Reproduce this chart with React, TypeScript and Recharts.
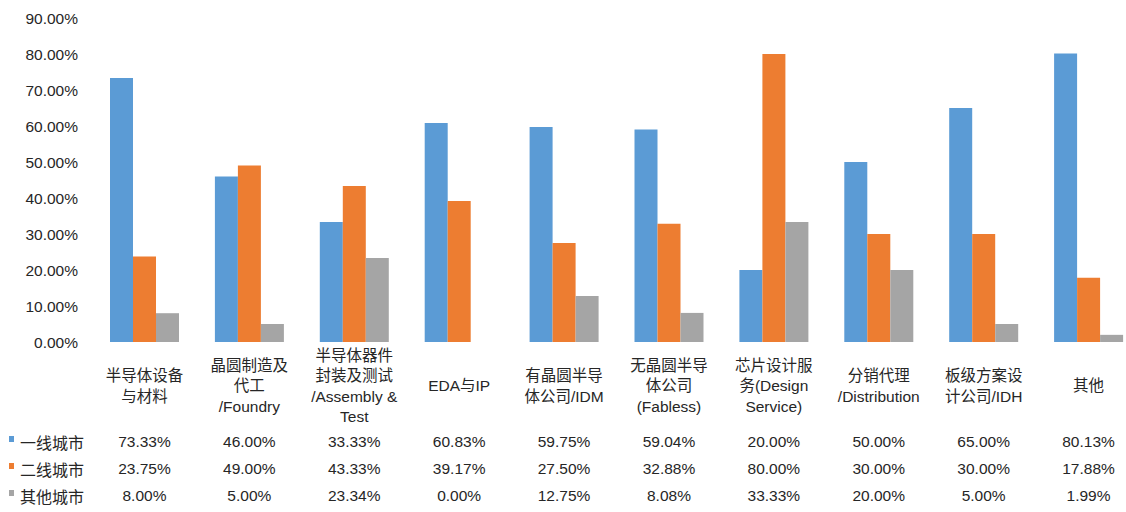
import { BarChart, Bar, XAxis, YAxis, Legend } from 'recharts';

const categoryLines: string[][] = [
  ['半导体设备', '与材料'],
  ['晶圆制造及', '代工', '/Foundry'],
  ['半导体器件', '封装及测试', '/Assembly &', 'Test'],
  ['EDA与IP'],
  ['有晶圆半导', '体公司/IDM'],
  ['无晶圆半导', '体公司', '(Fabless)'],
  ['芯片设计服', '务(Design', 'Service)'],
  ['分销代理', '/Distribution'],
  ['板级方案设', '计公司/IDH'],
  ['其他'],
];
const tier1 = [73.33, 46.0, 33.33, 60.83, 59.75, 59.04, 20.0, 50.0, 65.0, 80.13];
const tier2 = [23.75, 49.0, 43.33, 39.17, 27.5, 32.88, 80.0, 30.0, 30.0, 17.88];
const otherCities = [8.0, 5.0, 23.34, 0.0, 12.75, 8.08, 33.33, 20.0, 5.0, 1.99];
const yTicks = [0, 10, 20, 30, 40, 50, 60, 70, 80, 90];

const seriesMeta = [
  { key: 'tier1', name: '一线城市', color: '#5B9BD5' },
  { key: 'tier2', name: '二线城市', color: '#ED7D31' },
  { key: 'other', name: '其他城市', color: '#A5A5A5' },
];

const data = categoryLines.map((lines, i) => ({
  name: lines.join(''),
  lines,
  tier1: tier1[i],
  tier2: tier2[i],
  other: otherCities[i],
}));

const FONT = '"Liberation Sans", Arial, "Noto Sans CJK SC", sans-serif';
const TEXT = '#262626';
const pct = (v: number) => `${v.toFixed(2)}%`;

function CategoryTick(props: any) {
  const { x, y, index } = props;
  const row = data[index];
  if (!row) return null;
  const lineH = 20.5;
  const top = y + 36 - ((row.lines.length - 1) * lineH) / 2;
  const rowsY = [y + 92, y + 119, y + 146];
  return (
    <g>
      {row.lines.map((l, k) => (
        <text key={k} x={x} y={top + k * lineH} dy="0.35em" textAnchor="middle"
          fontSize={15.5} fill={TEXT} fontFamily={FONT}>
          {l}
        </text>
      ))}
      {seriesMeta.map((s, k) => (
        <text key={s.key} x={x} y={rowsY[k]} dy="0.35em" textAnchor="middle"
          fontSize={15.5} fill={TEXT} fontFamily={FONT}>
          {pct((row as any)[s.key])}
        </text>
      ))}
    </g>
  );
}

function RowLegend() {
  return (
    <div style={{ fontFamily: FONT, fontSize: 16, color: TEXT }}>
      {seriesMeta.map((s) => (
        <div key={s.key} style={{ height: 27, display: 'flex', alignItems: 'center' }}>
          <span style={{ display: 'inline-block', width: 5, height: 6, background: s.color, marginLeft: 9, marginRight: 6, marginTop: -6 }} />
          <span>{s.name}</span>
        </div>
      ))}
    </div>
  );
}

export default function App() {
  return (
    <div style={{ position: 'absolute', left: 0, top: 0, width: 1126, height: 512, overflow: 'hidden', background: '#fff' }}>
      <BarChart width={1142} height={512} data={data}
        margin={{ top: 18, right: 1, left: 0, bottom: 0 }}
        barCategoryGap={18} barGap={0}>
        <YAxis width={92} domain={[0, 90]} ticks={yTicks} tickFormatter={pct}
          axisLine={false} tickLine={false} tickMargin={8}
          tick={{ fill: TEXT, fontSize: 15.5, fontFamily: FONT }} />
        <XAxis dataKey="name" height={170} axisLine={false} tickLine={false}
          interval={0} tick={<CategoryTick />} />
        <Legend layout="vertical" align="center" verticalAlign="middle"
          content={<RowLegend />}
          wrapperStyle={{ left: 0, top: 428, width: 110 }} />
        {seriesMeta.map((s) => (
          <Bar key={s.key} dataKey={s.key} name={s.name} fill={s.color}
            isAnimationActive={false} />
        ))}
      </BarChart>
    </div>
  );
}
